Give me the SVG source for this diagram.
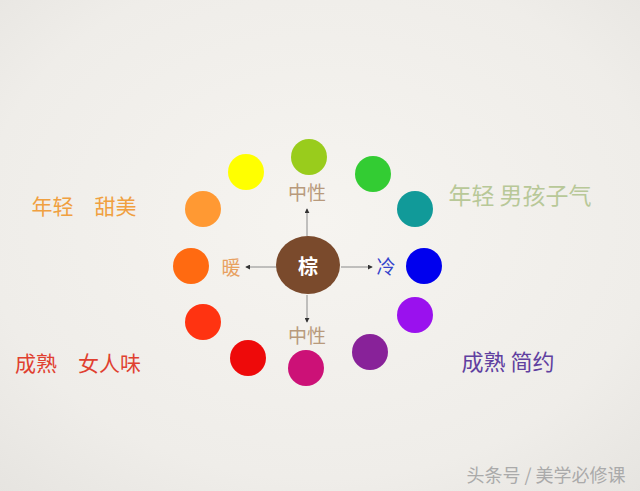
<svg xmlns="http://www.w3.org/2000/svg" width="640" height="491" viewBox="0 0 640 491">
<defs>
<radialGradient id="bg" cx="0.5" cy="0.45" r="0.75">
<stop offset="0" stop-color="#f6f4f0"/>
<stop offset="0.7" stop-color="#efede9"/>
<stop offset="1" stop-color="#e6e4e0"/>
</radialGradient>
<marker id="ah" viewBox="0 0 6 6" refX="5" refY="3" markerWidth="5" markerHeight="5" orient="auto" markerUnits="userSpaceOnUse">
<path d="M0,0 L6,3 L0,6 Z" fill="#333"/>
</marker>
<style>
text{font-family:"Noto Sans CJK SC","Noto Sans CJK JP",sans-serif;text-anchor:middle;dominant-baseline:central}
.c{stroke:none}
.lbl{font-size:19px;fill:#b89a7c}
.side{font-size:21px}
.con{stroke:#8a8a8a;stroke-width:1;fill:none;marker-end:url(#ah)}
</style>
</defs>
<rect width="640" height="491" fill="url(#bg)"/>
<g id="connectors">
<line class="con" x1="307" y1="236" x2="307" y2="209"/>
<line class="con" x1="307" y1="295" x2="307" y2="322"/>
<line class="con" x1="277" y1="267" x2="246" y2="267"/>
<line class="con" x1="341" y1="267" x2="372" y2="267"/>
</g>
<g id="ring">
<circle id="c-yellowgreen" class="c" cx="309" cy="157" r="18" fill="#99cc1c"/>
<circle id="c-green" class="c" cx="373" cy="174" r="18" fill="#33cc33"/>
<circle id="c-teal" class="c" cx="415" cy="209" r="18" fill="#119a99"/>
<circle id="c-blue" class="c" cx="424" cy="266" r="18" fill="#0000ee"/>
<circle id="c-violet" class="c" cx="415" cy="315" r="18" fill="#9a11ee"/>
<circle id="c-purple" class="c" cx="370" cy="352" r="18" fill="#882299"/>
<circle id="c-magenta" class="c" cx="306" cy="368" r="18" fill="#cc1177"/>
<circle id="c-red" class="c" cx="248" cy="358" r="18" fill="#ee0a0a"/>
<circle id="c-redorange" class="c" cx="203" cy="322" r="18" fill="#ff3311"/>
<circle id="c-orange" class="c" cx="191" cy="266" r="18" fill="#ff6a11"/>
<circle id="c-lightorange" class="c" cx="203" cy="209" r="18" fill="#ff9933"/>
<circle id="c-yellow" class="c" cx="246" cy="172" r="18" fill="#ffff00"/>
</g>
<g id="center">
<ellipse cx="308" cy="265" rx="32" ry="29" fill="#7a4a2c"/>
<text x="308" y="265" style="font-size:20px;font-weight:bold;fill:#ffffff">棕</text>
</g>
<g id="labels">
<text class="lbl" x="307" y="191">中性</text>
<text class="lbl" x="307" y="334">中性</text>
<text class="lbl" x="231" y="266" style="fill:#e8a060">暖</text>
<text class="lbl" x="386" y="265" style="fill:#3344cc">冷</text>
</g>
<g id="side-texts">
<text class="side" x="84" y="205" style="fill:#f0a040" xml:space="preserve">年轻　甜美</text>
<text class="side" x="78" y="362" style="fill:#e04030" xml:space="preserve">成熟　女人味</text>
<text class="side" x="520" y="194" style="font-size:23px;fill:#b8c898" xml:space="preserve">年轻 男孩子气</text>
<text class="side" x="508" y="360" style="font-size:22px;fill:#6040a0" xml:space="preserve">成熟 简约</text>
</g>
<text x="546" y="474" style="font-size:18px;fill:#aaaaaa">头条号 / 美学必修课</text>
</svg>
